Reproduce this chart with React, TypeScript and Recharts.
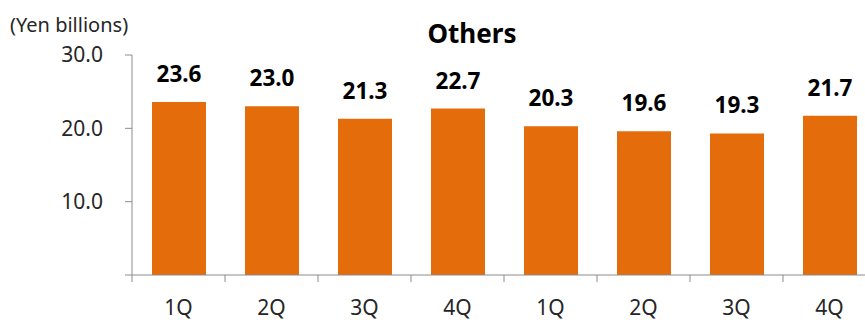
import React from 'react';
import { BarChart, Bar, XAxis, YAxis, LabelList } from 'recharts';

// Quarterly figures for the "Others" segment (yen billions)
const quarters = ['1Q', '2Q', '3Q', '4Q', '1Q', '2Q', '3Q', '4Q'];
const values = [23.6, 23.0, 21.3, 22.7, 20.3, 19.6, 19.3, 21.7];
const yTicks = [0, 10, 20, 30];
const title = 'Others';
const unitLabel = '(Yen billions)';

const data = quarters.map((q, i) => ({ key: `${q}-${i}`, quarter: q, value: values[i] }));

const FONT = '"Noto Sans", "Open Sans", sans-serif';
const BAR_COLOR = '#E46C0A';
const AXIS_COLOR = '#8C8C8C';
const TEXT_COLOR = '#262626';

const CHART_W = 890;
const CHART_H = 320;
const MARGIN = { top: 55, right: 14, left: 0, bottom: 0 };
const Y_AXIS_W = 132;
const PLOT_W = CHART_W - MARGIN.left - MARGIN.right - Y_AXIS_W;
const BAND = PLOT_W / quarters.length;

// Category label with a small tick mark at the left boundary of its band
const QuarterTick = (props: any) => {
  const { x, y, payload, index } = props;
  const left = x - BAND / 2;
  return (
    <g>
      <line x1={left} y1={y} x2={left} y2={y + 7} stroke={AXIS_COLOR} strokeWidth={1} />
      <text
        x={x}
        y={y + 40}
        textAnchor="middle"
        fontFamily={FONT}
        fontSize={21}
        fill={TEXT_COLOR}
      >
        {quarters[index] ?? payload.value}
      </text>
    </g>
  );
};

export default function App() {
  return (
    <div
      style={{
        position: 'absolute',
        left: 0,
        top: 0,
        width: 865,
        height: 320,
        overflow: 'hidden',
        background: '#fff',
      }}
    >
      <BarChart width={CHART_W} height={CHART_H} data={data} margin={MARGIN}>
        <XAxis
          dataKey="key"
          axisLine={{ stroke: AXIS_COLOR, strokeWidth: 1 }}
          tickLine={false}
          tickSize={0}
          tickMargin={0}
          height={45}
          interval={0}
          tick={<QuarterTick />}
        />
        <YAxis
          width={Y_AXIS_W}
          domain={[0, 30]}
          ticks={yTicks}
          interval={0}
          axisLine={{ stroke: AXIS_COLOR, strokeWidth: 1 }}
          tickLine={{ stroke: AXIS_COLOR, strokeWidth: 1 }}
          tickSize={7}
          tickMargin={22}
          tickFormatter={(v: number) => (v === 0 ? '' : v.toFixed(1))}
          tick={{ fontFamily: FONT, fontSize: 21, fill: TEXT_COLOR }}
        />
        <Bar dataKey="value" fill={BAR_COLOR} barSize={54} isAnimationActive={false}>
          <LabelList
            dataKey="value"
            position="top"
            offset={20}
            formatter={(v: number) => v.toFixed(1)}
            style={{ fontFamily: FONT, fontSize: 22.5, fontWeight: 700, fill: '#000' }}
          />
        </Bar>
      </BarChart>
      <svg
        width={865}
        height={320}
        style={{ position: 'absolute', left: 0, top: 0, pointerEvents: 'none' }}
      >
        <text x={10} y={32} fontFamily={FONT} fontSize={20} fill={TEXT_COLOR}>
          {unitLabel}
        </text>
        <text
          x={472}
          y={43}
          textAnchor="middle"
          fontFamily={FONT}
          fontSize={26}
          fontWeight={700}
          fill="#000"
        >
          {title}
        </text>
      </svg>
    </div>
  );
}
